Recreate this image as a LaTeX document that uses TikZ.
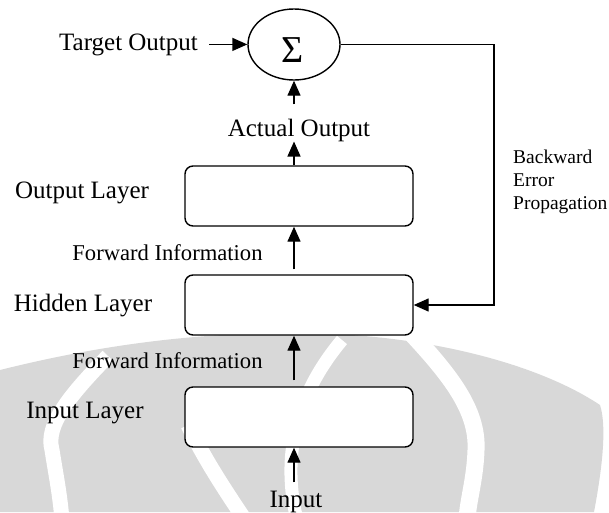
\documentclass[tikz,border=0pt]{standalone}
\usepackage{fontspec}
\setmainfont{Liberation Serif}
\usetikzlibrary{arrows.meta,shapes.geometric}
\definecolor{wmgray}{RGB}{216,216,216}

\begin{document}
\begin{tikzpicture}[x=1pt,y=-1pt,
  layerbox/.style={draw, line width=1.4pt, rounded corners=8pt, fill=white,
    minimum width=228pt, minimum height=60pt, inner sep=0pt},
  lbl/.style={font=\fontsize{25}{30}\selectfont, inner sep=0pt, anchor=base},
  fwdlbl/.style={font=\fontsize{22.6}{27}\selectfont, inner sep=0pt, anchor=base},
  note/.style={font=\fontsize{19.5}{23}\selectfont, inner sep=0pt, anchor=base west},
  arr/.style={-{Triangle[length=15pt,width=13pt]}, line width=1.4pt},
  stripe/.style={draw=white, line width=15pt}
]
\useasboundingbox (0,0) rectangle (609,512);

% faint background emblem
\begin{scope}
  \clip (0,0) rectangle (609,512);
  \fill[wmgray] (0,512) -- (0,370) .. controls (80,350) and (180,332) .. (300,333)
    .. controls (430,334) and (540,365) .. (600,405)
    .. controls (608,430) and (600,480) .. (594,512) -- cycle;
  \draw[stripe] (108,356) .. controls (70,395) and (45,425) .. (52,450)
    .. controls (56,475) and (60,495) .. (62,520);
  \draw[stripe] (188,425) .. controls (205,460) and (225,490) .. (245,520);
  \draw[stripe, line width=13pt] (342,340) .. controls (300,390) and (280,450) .. (297,520);
  \draw[stripe, line width=17pt] (410,332) .. controls (450,375) and (478,410) .. (476,450)
    .. controls (475,480) and (468,500) .. (467,520);
\end{scope}

% layers and summing junction
\node[layerbox] (outl) at (299,196) {};
\node[layerbox] (hid) at (299,305) {};
\node[layerbox] (inl) at (299,417) {};
\node[draw, ellipse, line width=1.4pt, fill=white, minimum width=92pt,
  minimum height=71pt, inner sep=0pt] (sum) at (294,44.5) {};
\node[font=\fontsize{38}{38}\selectfont, inner sep=0pt] (sig) at (293,50) {Σ};

% labels
\node[lbl] (tgt) at (128.5,50) {Target Output};
\node[lbl] (act) at (299,136) {Actual Output};
\node[lbl] (ol) at (82,198) {Output Layer};
\node[fwdlbl] (fw1) at (167.5,260) {Forward Information};
\node[lbl] (hl) at (83,311) {Hidden Layer};
\node[fwdlbl] (fw2) at (167.5,368) {Forward Information};
\node[lbl] (il) at (85,418) {Input Layer};
\node[lbl] (inp) at (296,507) {Input};
\node[note] (bk1) at (513,163) {Backward};
\node[note] (bk2) at (513,186.5) {Error};
\node[note] (bk3) at (513,209) {Propagation};

% forward path
\draw[arr, shorten <=11pt] (tgt.east) -- (tgt.east -| sum.west);
\draw[arr, shorten <=14pt] (act.north -| sum.south) -- (sum.south);
\draw[arr] (outl.north -| sum.south) -- (act.south -| sum.south);
\draw[arr, shorten <=5pt] (hid.north -| sum.south) -- (outl.south -| sum.south);
\draw[arr, shorten <=6pt] (inl.north -| sum.south) -- (hid.south -| sum.south);
\draw[arr, shorten <=8pt] (inp.north -| sum.south) -- (inl.south -| sum.south);

% error fed back to the hidden layer
\coordinate (fb) at (494,175);
\draw[arr] (sum.east) -| (fb) |- (hid.east);
\end{tikzpicture}
\end{document}
